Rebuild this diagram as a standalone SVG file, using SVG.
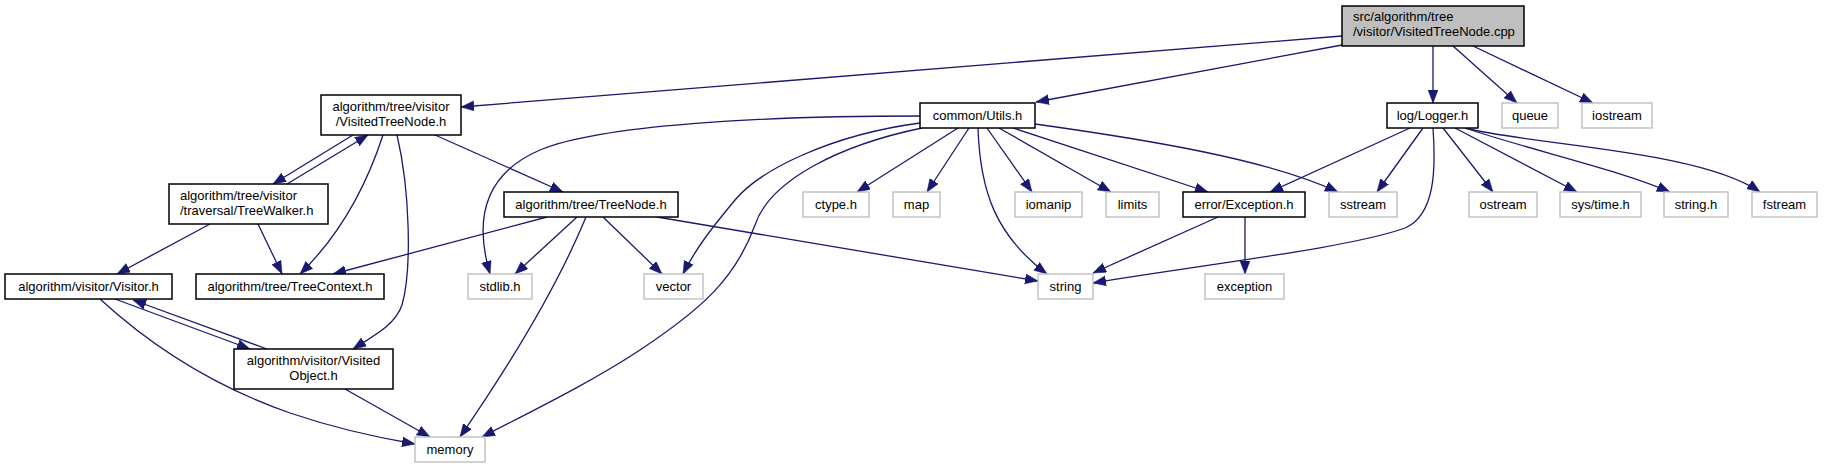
<svg xmlns="http://www.w3.org/2000/svg" width="1837" height="469" viewBox="0 0 1837 469">
<defs>
<marker id="ah" markerUnits="userSpaceOnUse" markerWidth="14" markerHeight="12" refX="13" refY="5" orient="auto">
<path d="M0,0 L13,5 L0,10 z" fill="#191970" stroke="#191970" stroke-width="0.5"/>
</marker>
<style>
.e{fill:none;stroke:#191970;stroke-width:1.3;marker-end:url(#ah)}
.n rect{fill:#fff;stroke:#000;stroke-width:1.5}
.x rect{fill:#fff;stroke:#bfbfbf;stroke-width:1.4}
.r rect{fill:#bfbfbf;stroke:#000;stroke-width:1.5}
text{font-family:"Liberation Sans",Arial,sans-serif;font-size:13px;fill:#000;text-anchor:middle}
.l{text-anchor:start}
</style>
</defs>
<rect width="1837" height="469" fill="#fff"/>
<g id="edges">
<path class="e" d="M1342,36 L461,107"/>
<path class="e" d="M1342,45 L1036,102"/>
<path class="e" d="M1433,46 L1433,103"/>
<path class="e" d="M1453,46 L1517,103"/>
<path class="e" d="M1473,46 L1593,103"/>
<path class="e" d="M958,128 L857,192"/>
<path class="e" d="M969,128 L927,192"/>
<path class="e" d="M978,128 C980,190 995,235 1047,274"/>
<path class="e" d="M987,128 L1032,192"/>
<path class="e" d="M999,128 L1111,192"/>
<path class="e" d="M1013,128 L1208,192"/>
<path class="e" d="M1035,124 C1150,140 1270,160 1338,192"/>
<path class="e" d="M920,116 C760,116 600,125 540,150 C470,180 480,240 490,274"/>
<path class="e" d="M920,123 C830,135 760,170 735,200 C710,230 695,250 683,274"/>
<path class="e" d="M922,128 C840,145 770,180 755,225 C735,280 700,310 640,350 C590,383 530,412 482,437"/>
<path class="e" d="M1410,128 L1270,192"/>
<path class="e" d="M1423,128 L1377,192"/>
<path class="e" d="M1433,128 C1436,170 1435,215 1405,228 C1350,248 1200,265 1093,283"/>
<path class="e" d="M1443,128 L1493,192"/>
<path class="e" d="M1455,128 L1577,192"/>
<path class="e" d="M1465,128 C1530,150 1620,170 1670,192"/>
<path class="e" d="M1465,128 C1530,145 1700,150 1760,192"/>
<path class="e" d="M1218,217 L1093,273"/>
<path class="e" d="M1245,217 L1245,274"/>
<path class="e" d="M547,217 L333,274"/>
<path class="e" d="M577,217 L515,274"/>
<path class="e" d="M586,217 C560,280 520,350 460,437"/>
<path class="e" d="M603,217 L662,274"/>
<path class="e" d="M657,217 L1038,281"/>
<path class="e" d="M435,135 L563,192"/>
<path class="e" d="M353,135 L273,184"/>
<path class="e" d="M287,184 L368,135"/>
<path class="e" d="M383,135 C370,175 345,230 300,274"/>
<path class="e" d="M397,135 C410,190 412,270 402,305 C395,325 375,335 353,349"/>
<path class="e" d="M210,224 L117,274"/>
<path class="e" d="M258,224 L282,274"/>
<path class="e" d="M115,299 L250,349"/>
<path class="e" d="M267,349 L133,300"/>
<path class="e" d="M100,299 C150,345 210,385 290,413 C340,430 380,438 415,444"/>
<path class="e" d="M345,389 L430,437"/>
</g>
<g id="root" class="r"><rect x="1342" y="6" width="182" height="40"/><text class="l" x="1353" y="21">src/algorithm/tree</text><text class="l" x="1353" y="36">/visitor/VisitedTreeNode.cpp</text></g>
<g id="visitedtreenode_h" class="n"><rect x="321" y="95" width="140" height="40"/><text x="391" y="110.5">algorithm/tree/visitor</text><text x="391" y="125.5">/VisitedTreeNode.h</text></g>
<g id="utils_h" class="n"><rect x="920" y="103" width="115" height="25"/><text x="977.5" y="119.5">common/Utils.h</text></g>
<g id="logger_h" class="n"><rect x="1387" y="103" width="91" height="25"/><text x="1432.5" y="119.5">log/Logger.h</text></g>
<g id="queue" class="x"><rect x="1502" y="103" width="56" height="25"/><text x="1530" y="119.5">queue</text></g>
<g id="iostream" class="x"><rect x="1582" y="103" width="70" height="25"/><text x="1617" y="119.5">iostream</text></g>
<g id="treewalker_h" class="n"><rect x="169" y="184" width="159" height="40"/><text class="l" x="180" y="199.5">algorithm/tree/visitor</text><text class="l" x="180" y="214.5">/traversal/TreeWalker.h</text></g>
<g id="treenode_h" class="n"><rect x="504" y="192" width="174" height="25"/><text x="591" y="208.5">algorithm/tree/TreeNode.h</text></g>
<g id="ctype_h" class="x"><rect x="803" y="192" width="66" height="25"/><text x="836" y="208.5">ctype.h</text></g>
<g id="map" class="x"><rect x="893" y="192" width="47" height="25"/><text x="916.5" y="208.5">map</text></g>
<g id="iomanip" class="x"><rect x="1015" y="192" width="67" height="25"/><text x="1048.5" y="208.5">iomanip</text></g>
<g id="limits" class="x"><rect x="1106" y="192" width="53" height="25"/><text x="1132.5" y="208.5">limits</text></g>
<g id="exception_h" class="n"><rect x="1183" y="192" width="122" height="25"/><text x="1244" y="208.5">error/Exception.h</text></g>
<g id="sstream" class="x"><rect x="1329" y="192" width="68" height="25"/><text x="1363" y="208.5">sstream</text></g>
<g id="ostream" class="x"><rect x="1469" y="192" width="68" height="25"/><text x="1503" y="208.5">ostream</text></g>
<g id="systime_h" class="x"><rect x="1560" y="192" width="81" height="25"/><text x="1600.5" y="208.5">sys/time.h</text></g>
<g id="string_h" class="x"><rect x="1664" y="192" width="64" height="25"/><text x="1696" y="208.5">string.h</text></g>
<g id="fstream" class="x"><rect x="1752" y="192" width="65" height="25"/><text x="1784.5" y="208.5">fstream</text></g>
<g id="visitor_h" class="n"><rect x="5" y="274" width="167" height="25"/><text x="88.5" y="290.5">algorithm/visitor/Visitor.h</text></g>
<g id="treecontext_h" class="n"><rect x="196" y="274" width="188" height="25"/><text x="290" y="290.5">algorithm/tree/TreeContext.h</text></g>
<g id="stdlib_h" class="x"><rect x="468" y="274" width="64" height="25"/><text x="500" y="290.5">stdlib.h</text></g>
<g id="vector" class="x"><rect x="644" y="274" width="59" height="25"/><text x="673.5" y="290.5">vector</text></g>
<g id="string" class="x"><rect x="1038" y="274" width="55" height="25"/><text x="1065.5" y="290.5">string</text></g>
<g id="exception" class="x"><rect x="1205" y="274" width="79" height="25"/><text x="1244.5" y="290.5">exception</text></g>
<g id="visitedobject_h" class="n"><rect x="234" y="349" width="159" height="40"/><text x="313.5" y="364.5">algorithm/visitor/Visited</text><text x="313.5" y="379.5">Object.h</text></g>
<g id="memory" class="x"><rect x="415" y="437" width="70" height="25"/><text x="450" y="453.5">memory</text></g>
</svg>
